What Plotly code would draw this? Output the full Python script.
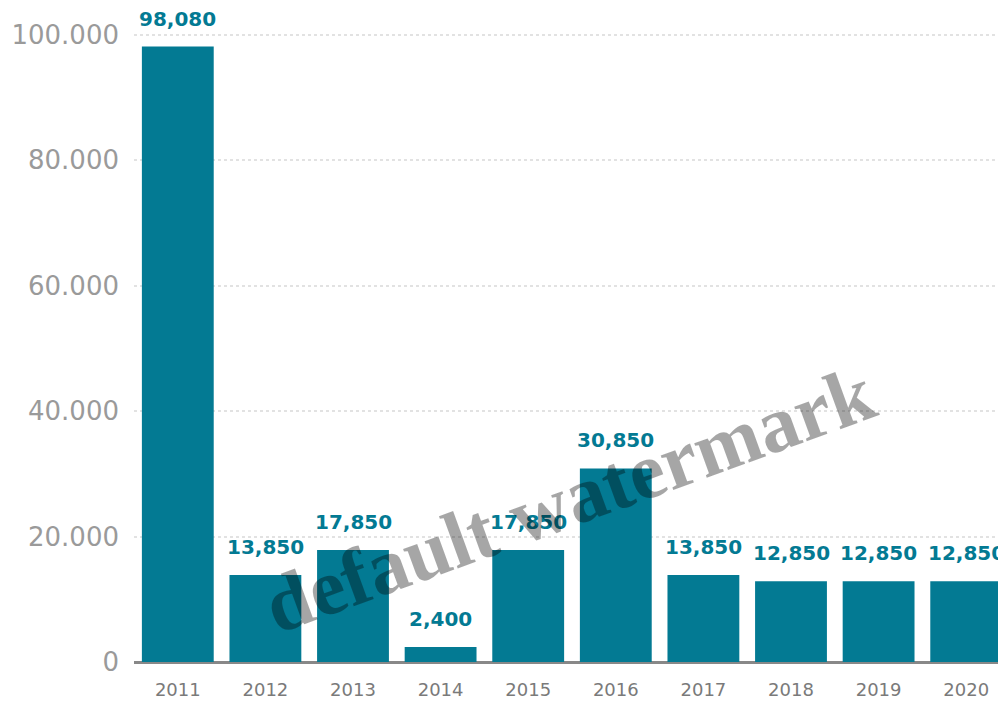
import plotly.graph_objects as go

years = ["2011", "2012", "2013", "2014", "2015", "2016", "2017", "2018", "2019", "2020"]
values = [98080, 13850, 17850, 2400, 17850, 30850, 13850, 12850, 12850, 12850]
y_ticks = [0, 20000, 40000, 60000, 80000, 100000]
y_tick_labels = ["0", "20.000", "40.000", "60.000", "80.000", "100.000"]

teal = "#037a93"

fig = go.Figure()
fig.add_trace(go.Bar(
    x=years, y=values,
    marker=dict(color=teal, line=dict(width=0)),
    width=0.82,
    cliponaxis=False,
    hoverinfo="x+y",
))

# value labels above bars (category position index on the category axis)
for i, v in enumerate(values):
    fig.add_annotation(
        x=i, y=v, xref="x", yref="y",
        text=f"{v:,}",
        showarrow=False,
        yanchor="bottom",
        yshift=14,
        font=dict(family="DejaVu Sans", size=20, color=teal, weight="bold"),
    )

fig.update_layout(
    width=1006, height=718,
    margin=dict(l=126, r=4, t=14, b=64, autoexpand=False),
    plot_bgcolor="white", paper_bgcolor="white",
    showlegend=False,
    font=dict(family="DejaVu Sans"),
    xaxis=dict(
        type="category",
        categoryorder="array",
        categoryarray=years,
        automargin=False,
        showgrid=False,
        showline=False,
        ticks="",
        tickfont=dict(size=18, color="#7a7a7a"),
        ticklabelstandoff=15,
    ),
    yaxis=dict(
        automargin=False,
        range=[0, 102000],
        tickvals=y_ticks,
        ticktext=y_tick_labels,
        tickfont=dict(size=26, color="#9a9a9a"),
        showgrid=True,
        gridcolor="#e2e2e2",
        griddash="dot",
        gridwidth=1.5,
        zeroline=True,
        zerolinecolor="#888888",
        zerolinewidth=3,
        showline=False,
        ticks="",
        ticklabelstandoff=14,
    ),
)

fig.add_annotation(
    text="default watermark",
    xref="paper", yref="paper",
    x=0.497, y=0.255,
    xanchor="center", yanchor="middle",
    showarrow=False,
    textangle=-20,
    font=dict(family="Liberation Serif", size=80, color="rgba(0,0,0,0.35)", weight="bold"),
)

fig.write_html("out.html")
